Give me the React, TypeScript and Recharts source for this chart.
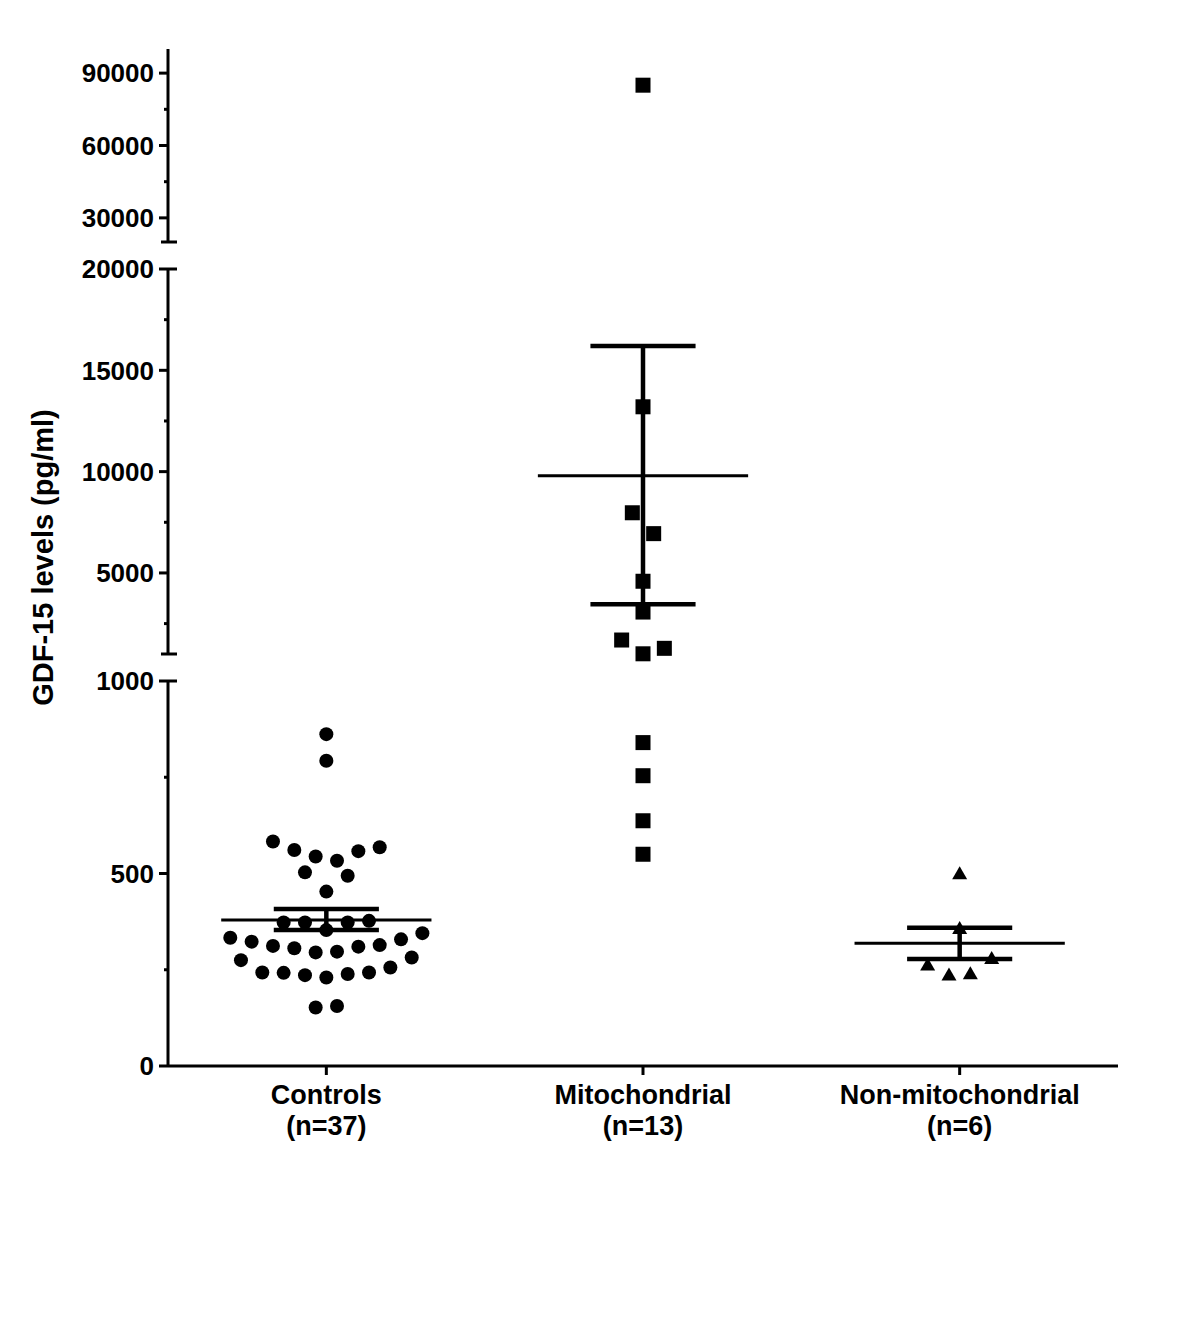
import React from 'react';
import { ScatterChart, Scatter, XAxis, YAxis, ReferenceLine } from 'recharts';

const FONT = '"Liberation Sans", Arial, Helvetica, sans-serif';

const categories = ['Controls', 'Mitochondrial', 'Non-mitochondrial'];
const groupSizes = [37, 13, 6];

// GDF-15 (pg/ml) per subject, with beeswarm slot offsets
const controlsValues = [862, 793, 583, 561, 544, 533, 558, 568, 503, 494, 453, 373, 373, 373, 377, 353, 333, 323, 312, 306, 295, 297, 310, 314, 329, 345, 275, 243, 242, 236, 230, 239, 243, 256, 282, 152, 156];
const controlsSlots = [0, 0, -5, -3, -1, 1, 3, 5, -2, 2, 0, -4, -2, 2, 4, 0, -9, -7, -5, -3, -1, 1, 3, 5, 7, 9, -8, -6, -4, -2, 0, 2, 4, 6, 8, -1, 1];

const mitoValues = [85000, 13200, 7970, 6940, 4590, 3070, 1690, 1280, 1010, 840, 754, 637, 550];
const mitoSlots = [0, 0, -1, 1, 0, 0, -2, 2, 0, 0, 0, 0, 0];

const nonMitoValues = [502, 360, 265, 282, 239, 242];
const nonMitoSlots = [0, 0, -3, 3, -1, 1];

// mean +/- SEM
const groupMeans = [379, 9800, 319];
const semHigh = [408, 16200, 359];
const semLow = [353, 3450, 278];

// broken y axis
const axisSegments = [
  { min: 0, max: 1000, major: [0, 500, 1000], minor: [250, 750] },
  { min: 1000, max: 20000, major: [5000, 10000, 15000, 20000], minor: [2500, 7500, 12500, 17500] },
  { min: 20000, max: 100000, major: [30000, 60000, 90000], minor: [45000, 75000] },
];
// where each segment sits on the (linear) plotting axis
const segmentSpans = [[0, 385], [412, 797], [824, 1017]];

const SLOT = 0.0337;
const MEAN_HALF = 0.332;
const SEM_HALF = 0.166;

const toAxis = (val: number) => {
  let i = axisSegments.findIndex(s => val <= s.max);
  if (i < 0) i = axisSegments.length - 1;
  const s = axisSegments[i];
  const [a, b] = segmentSpans[i];
  return a + ((val - s.min) / (s.max - s.min)) * (b - a);
};

type YTick = { v: number; label: string; kind: 'major' | 'minor' | 'end' | 'cap' };
const yTicks: YTick[] = [];
axisSegments.forEach((seg, i) => {
  const [a, b] = segmentSpans[i];
  const pos = (val: number) => a + ((val - seg.min) / (seg.max - seg.min)) * (b - a);
  const last = i === axisSegments.length - 1;
  if (i > 0) yTicks.push({ v: a, label: '', kind: 'cap' });
  seg.major.forEach(val => yTicks.push({ v: pos(val), label: String(val), kind: !last && val === seg.max ? 'end' : 'major' }));
  seg.minor.forEach(val => yTicks.push({ v: pos(val), label: '', kind: 'minor' }));
});
yTicks.sort((p, q) => p.v - q.v);

const toPoints = (values: number[], slots: number[], cat: number) =>
  values.map((v, i) => ({ x: cat + slots[i] * SLOT, y: toAxis(v) }));

const controlsData = toPoints(controlsValues, controlsSlots, 1);
const mitoData = toPoints(mitoValues, mitoSlots, 2);
const nonMitoData = toPoints(nonMitoValues, nonMitoSlots, 3);

const Dot = (p: any) => <circle cx={p.cx} cy={p.cy} r={7} fill="#000" />;
const Square = (p: any) => <rect x={p.cx - 7.5} y={p.cy - 7.5} width={15} height={15} fill="#000" />;
const Triangle = (p: any) => (
  <polygon points={`${p.cx},${p.cy - 6.5} ${p.cx - 7.5},${p.cy + 6.5} ${p.cx + 7.5},${p.cy + 6.5}`} fill="#000" />
);

const YTickMark = (props: any) => {
  const { x, y, payload } = props;
  const t = yTicks.reduce((best, cur) => (Math.abs(cur.v - payload.value) < Math.abs(best.v - payload.value) ? cur : best), yTicks[0]);
  let x1 = x - 9;
  let x2 = x;
  if (t.kind === 'minor') x1 = x - 4;
  if (t.kind === 'end') x2 = x + 9;
  if (t.kind === 'cap') { x1 = x - 7; x2 = x + 9; }
  return (
    <g>
      <line x1={x1} x2={x2} y1={y} y2={y} stroke="#000" strokeWidth={3} />
      {t.label && (
        <text x={x - 14} y={y} dy="0.36em" textAnchor="end" fontFamily={FONT} fontWeight="bold" fontSize={26} fill="#000">
          {t.label}
        </text>
      )}
    </g>
  );
};

const XTickMark = (props: any) => {
  const { x, y, payload } = props;
  const i = Math.round(payload.value) - 1;
  return (
    <g>
      <line x1={x} x2={x} y1={y} y2={y + 9} stroke="#000" strokeWidth={3} />
      <text x={x} y={y + 38} textAnchor="middle" fontFamily={FONT} fontWeight="bold" fontSize={27} fill="#000">
        {categories[i]}
      </text>
      <text x={x} y={y + 69} textAnchor="middle" fontFamily={FONT} fontWeight="bold" fontSize={27} fill="#000">
        (n={groupSizes[i]})
      </text>
    </g>
  );
};

const YTitle = (props: any) => {
  const vb = props.viewBox;
  const cy = vb.y + vb.height / 2;
  const cx = 53;
  return (
    <text x={cx} y={cy} transform={`rotate(-90, ${cx}, ${cy})`} textAnchor="middle" fontFamily={FONT} fontWeight="bold" fontSize={29} fill="#000">
      GDF-15 levels (pg/ml)
    </text>
  );
};

export default function App() {
  return (
    <div style={{ position: 'absolute', left: 0, top: 0, width: 1200, height: 1341, background: '#fff' }}>
      <ScatterChart width={1200} height={1341} margin={{ top: 49, right: 82, bottom: 175, left: 68 }}>
        <XAxis
          type="number"
          dataKey="x"
          domain={[0.5, 3.5]}
          ticks={[1, 2, 3]}
          allowDataOverflow
          height={100}
          tickSize={0}
          tickMargin={0}
          tickLine={false}
          axisLine={{ stroke: '#000', strokeWidth: 3 }}
          tick={<XTickMark />}
        />
        <YAxis
          type="number"
          dataKey="y"
          domain={[0, 1017]}
          ticks={yTicks.map(t => t.v)}
          interval={0}
          allowDataOverflow
          width={100}
          tickSize={0}
          tickMargin={0}
          tickLine={false}
          axisLine={false}
          tick={<YTickMark />}
          label={{ content: <YTitle /> }}
        />
        {segmentSpans.map(([a, b], i) => (
          <ReferenceLine
            key={`axis-${i}`}
            segment={[{ x: 0.5, y: a }, { x: 0.5, y: b }]}
            stroke="#000"
            strokeWidth={3}
            ifOverflow="visible"
          />
        ))}
        {groupMeans.map((m, i) => (
          <ReferenceLine
            key={`mean-${i}`}
            segment={[{ x: i + 1 - MEAN_HALF, y: toAxis(m) }, { x: i + 1 + MEAN_HALF, y: toAxis(m) }]}
            stroke="#000"
            strokeWidth={3}
            ifOverflow="visible"
          />
        ))}
        {groupMeans.map((_, i) => (
          <ReferenceLine
            key={`semv-${i}`}
            segment={[{ x: i + 1, y: toAxis(semLow[i]) }, { x: i + 1, y: toAxis(semHigh[i]) }]}
            stroke="#000"
            strokeWidth={4.5}
            ifOverflow="visible"
          />
        ))}
        {groupMeans.map((_, i) => (
          <ReferenceLine
            key={`semh-${i}`}
            segment={[{ x: i + 1 - SEM_HALF, y: toAxis(semHigh[i]) }, { x: i + 1 + SEM_HALF, y: toAxis(semHigh[i]) }]}
            stroke="#000"
            strokeWidth={4.5}
            ifOverflow="visible"
          />
        ))}
        {groupMeans.map((_, i) => (
          <ReferenceLine
            key={`seml-${i}`}
            segment={[{ x: i + 1 - SEM_HALF, y: toAxis(semLow[i]) }, { x: i + 1 + SEM_HALF, y: toAxis(semLow[i]) }]}
            stroke="#000"
            strokeWidth={4.5}
            ifOverflow="visible"
          />
        ))}
        <Scatter name="Controls" data={controlsData} shape={Dot} isAnimationActive={false} />
        <Scatter name="Mitochondrial" data={mitoData} shape={Square} isAnimationActive={false} />
        <Scatter name="Non-mitochondrial" data={nonMitoData} shape={Triangle} isAnimationActive={false} />
      </ScatterChart>
    </div>
  );
}
